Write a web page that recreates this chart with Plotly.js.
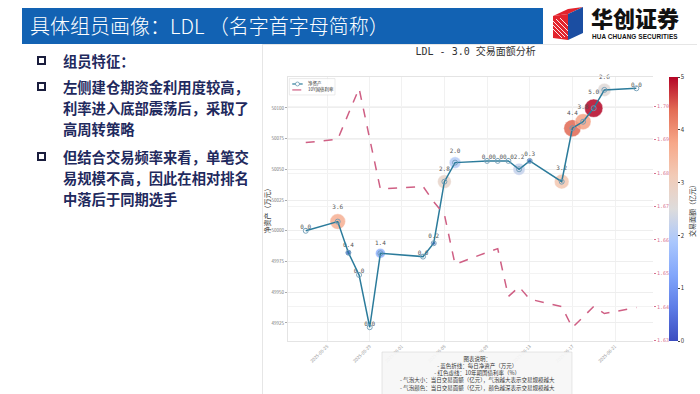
<!DOCTYPE html>
<html>
<head>
<meta charset="utf-8">
<script src="https://cdn.plot.ly/plotly-3.0.1.min.js"></script>
<style>
  html, body { margin:0; padding:0; background:#ffffff; width:700px; height:394px; overflow:hidden; font-family:"Noto Sans CJK SC","Noto Sans",sans-serif; }
  #titlebar { position:absolute; left:22px; top:8px; width:521px; height:36px; background:#1262b3; }
  #titletext { position:absolute; left:30px; top:8px; height:36px; line-height:36px; color:#fff; font-size:20px; font-weight:300; white-space:nowrap; }
  #logo { position:absolute; left:553px; top:7px; }
  #logoname { position:absolute; left:591px; top:6px; line-height:22px; height:22px; font-size:22px; font-weight:900; color:#111; white-space:nowrap; }
  #logoen { position:absolute; left:592px; top:33px; line-height:7px; font-family:"Liberation Sans",Arial,sans-serif; font-size:6.4px; font-weight:bold; color:#111; white-space:nowrap; letter-spacing:0.1px; }
  .bl { position:absolute; left:63px; font-size:14.3px; font-weight:bold; color:#1f2a5e; white-space:nowrap; line-height:20px; }
  .sq { position:absolute; left:37px; width:5px; height:5px; border:2.5px solid #1a1d3d; }
  #chartwrap { position:absolute; left:262px; top:44px; width:435px; height:350px; border-left:1px solid #e6e6e6; border-top:1px solid #e6e6e6; box-sizing:border-box; }
  #chart { position:absolute; left:262px; top:44px; width:436px; height:350px; }
</style>
</head>
<body>
<div id="titlebar"></div>
<div id="titletext">具体组员画像：LDL （名字首字母简称）</div>
<svg id="logo" width="32" height="33" viewBox="0 0 32 33">
  <polygon points="0,9 15,2 30,0 15,7" fill="#e3232c"/>
  <polygon points="0,9 15,7 15,33 0,31" fill="#e3232c"/>
  <polygon points="15,7 30,0 30,26 15,33" fill="#1b4ea2"/>
  <g stroke="#ffffff" stroke-width="0.9">
    <line x1="0" y1="22" x2="9" y2="31"/>
    <line x1="0" y1="18" x2="12" y2="30"/>
    <line x1="0" y1="14" x2="15" y2="29"/>
    <line x1="3" y1="12" x2="15" y2="24"/>
    <line x1="7" y1="11" x2="15" y2="19"/>
  </g>
</svg>
<div id="logoname">华创证券</div>
<div id="logoen">HUA CHUANG SECURITIES</div>

<div class="sq" style="top:56px"></div>
<div class="bl" style="top:51px">组员特征：</div>
<div class="sq" style="top:82px"></div>
<div class="bl" style="top:77px">左侧建仓期资金利用度较高，</div>
<div class="bl" style="top:98px">利率进入底部震荡后，采取了</div>
<div class="bl" style="top:119px">高周转策略</div>
<div class="sq" style="top:152px"></div>
<div class="bl" style="top:147px">但结合交易频率来看，单笔交</div>
<div class="bl" style="top:168px">易规模不高，因此在相对排名</div>
<div class="bl" style="top:189px">中落后于同期选手</div>

<div id="chartwrap"></div>
<div id="chart"></div>
<script>
// ---- data ----
const dates = ['2025-05-23','2025-05-26','2025-05-27','2025-05-28','2025-05-29','2025-05-30',
  '2025-06-03','2025-06-04','2025-06-05','2025-06-06','2025-06-09','2025-06-10','2025-06-11',
  '2025-06-12','2025-06-13','2025-06-16','2025-06-17','2025-06-18','2025-06-19','2025-06-20','2025-06-23'];
const netAsset = [50000.0, 50007.5, 49982.2, 49964.1, 49921.5, 49981.7, 49979.0, 49989.9, 50040.0, 50055.5,
  50056.9, 50056.9, 50056.9, 50050.1, 50056.9, 50040.0, 50083.5, 50088.8, 50099.8, 50114.7, 50116.0];
const bondRate = [1.6891, 1.6901, 1.6977, 1.7053, 1.6902, 1.6752, 1.6760, 1.6714, 1.6676, 1.6527,
  1.6563, 1.6574, 1.6431, 1.6460, 1.6423, 1.6401, 1.6338, 1.6370, 1.6401, 1.6380, 1.6398];
const volume = [0.0, 3.6, 0.4, 0.0, 0.0, 1.4, 0.0, 0.2, 2.8, 2.0, 0.0, 0.0, 0.0, 2.2, 0.3, 3.2, 4.4, 3.8, 5.0, 2.6, 0.0];
const xTicks = ['2025-05-25','2025-05-29','2025-06-01','2025-06-05','2025-06-09','2025-06-13','2025-06-17','2025-06-21'];
const leftTicks = [49925, 49950, 49975, 50000, 50025, 50050, 50075, 50100];
const rightTicks = [1.63, 1.64, 1.65, 1.66, 1.67, 1.68, 1.69, 1.70];
const cbTicks = [0, 1, 2, 3, 4, 5];
const chartTitle = 'LDL - 3.0 交易面额分析';
const noteLines = ['图表说明：', '- 蓝色折线：每日净资产（万元）', '- 红色虚线：10年期国债利率（%）',
  '- 气泡大小：当日交易面额（亿元），气泡越大表示交易规模越大', '- 气泡颜色：当日交易面额（亿元），颜色越深表示交易规模越大'];

const coolwarm = [[0,'#3b4cc0'],[0.125,'#5d7ce6'],[0.25,'#82a6fb'],[0.375,'#aac7fd'],[0.5,'#dddcdc'],
  [0.625,'#f2cbb7'],[0.75,'#f7a889'],[0.875,'#e36c55'],[1,'#b40426']];
const mono = '"DejaVu Sans Mono", "Noto Sans CJK SC", monospace';
const cjk = '"Noto Sans CJK SC", "DejaVu Sans", sans-serif';

const lineCol = '#2b7b9b';
const rateCol = '#cf5f84';

const traces = [
  { x: dates, y: bondRate, yaxis:'y2', type:'scatter', mode:'lines', name:'10Y国债利率',
    line:{color:rateCol, width:1.5, dash:'dash'}, hoverinfo:'skip' },
  { x: dates, y: netAsset, type:'scatter', mode:'markers+text', name:'bubble', cliponaxis:false,
    text: volume.map(v => v.toFixed(1)), textposition:'top center',
    textfont:{family:mono, size:6, color:'#555'},
    marker:{ size: volume, sizemode:'area', sizeref:0.03, sizemin:0,
      color: volume, cmin:0, cmax:5, colorscale: coolwarm, opacity:0.85,
      line:{width:0.4, color:'#ffffff'},
      colorbar:{ x:1.0438, xanchor:'left', y:0.5, yanchor:'middle', len:1, lenmode:'fraction',
        thickness:9, thicknessmode:'pixels', xpad:0, ypad:0, outlinewidth:0,
        tickvals: cbTicks, ticks:'outside', ticklen:2, tickcolor:'#444',
        tickfont:{family:cjk, size:6, color:'#333'},
        title:{text:'交易面额（亿元）', side:'right', font:{family:cjk, size:7, color:'#333'}} } } },
  { x: dates, y: netAsset, type:'scatter', mode:'lines+markers', name:'净资产',
    line:{color:lineCol, width:1.5},
    marker:{symbol:'circle-open', size:5, color:'#6d9bb4', line:{width:0.9}} }
];

const layout = {
  width:436, height:350,
  margin:{l:26, r:45, t:33, b:53, autoexpand:false},
  paper_bgcolor:'rgba(0,0,0,0)', plot_bgcolor:'#ffffff',
  showlegend:false,
  title:{text:chartTitle, font:{family:mono, size:10, color:'#333'}, xref:'container', x:0.49, xanchor:'center', yref:'container', y:0.98, yanchor:'middle'},
  xaxis:{ type:'date', range:['2025-05-21 08:05','2025-06-24 13:26'], tickvals:xTicks, ticktext:xTicks,
    tickangle:-45, tickfont:{family:cjk, size:4.5, color:'#999'}, showgrid:true, gridcolor:'#f1f1f1', gridwidth:1,
    zeroline:false, showline:true, linecolor:'#e4e4e4', mirror:true, ticks:'', automargin:false },
  yaxis:{ range:[49910.3, 50125.2], tickvals:leftTicks, tickformat:'d', tickfont:{family:cjk, size:4.5, color:'#777'},
    ticks:'outside', ticklen:2, tickcolor:'#aaa', showgrid:true, gridcolor:'#eeeeee', zeroline:false,
    showline:true, linecolor:'#e4e4e4', automargin:false,
    title:{text:'净资产（万元）', font:{family:cjk, size:7, color:'#333'}, standoff:3} },
  yaxis2:{ overlaying:'y', side:'right', range:[1.6298, 1.7087], tickvals:rightTicks, tickformat:'.2f',
    tickfont:{family:mono, size:5, color:'#d67392'}, ticks:'outside', ticklen:2, tickcolor:'#d67392',
    showgrid:true, gridcolor:'#f3f3f3', zeroline:false, automargin:false },
  shapes:[
    {type:'rect', xref:'paper', yref:'paper', x0:0.0036, x1:0.1288, y0:0.932, y1:0.994, line:{color:'#dddddd', width:0.6}, fillcolor:'rgba(255,255,255,0.85)'},
    {type:'line', xref:'paper', yref:'paper', x0:0.0117, x1:0.0402, y0:0.9735, y1:0.9735, line:{color:lineCol, width:1.2}},
    {type:'circle', xref:'paper', yref:'paper', x0:0.0204, x1:0.0315, y0:0.966, y1:0.981, line:{color:'#5b8fab', width:0.7}, fillcolor:'#ffffff'},
    {type:'line', xref:'paper', yref:'paper', x0:0.0117, x1:0.0402, y0:0.951, y1:0.951, line:{color:rateCol, width:1.2, dash:'dash'}},
    {type:'rect', xref:'paper', yref:'paper', x0:0.2575, x1:0.778, y0:-0.0417, y1:-0.25, layer:'above',
     line:{color:'#d6d6d6', width:0.6}, fillcolor:'rgba(246,246,246,0.92)'}
  ],
  annotations:[
    {xref:'paper', yref:'paper', x:0.048, y:0.9735, xanchor:'left', yanchor:'middle', text:'净资产', showarrow:false, font:{family:cjk, size:4.5, color:'#333'}},
    {xref:'paper', yref:'paper', x:0.048, y:0.951, xanchor:'left', yanchor:'middle', text:'10Y国债利率', showarrow:false, font:{family:cjk, size:4.5, color:'#333'}},
    {xref:'paper', yref:'paper', x:0.518, y:-0.05, xanchor:'center', yanchor:'top', align:'center', borderpad:0,
     text: noteLines.join('<br>'), showarrow:false, font:{family:cjk, size:5.5, color:'#333'}}
  ]
};

Plotly.newPlot('chart', traces, layout, {displayModeBar:false, staticPlot:true});
</script>
</body>
</html>
